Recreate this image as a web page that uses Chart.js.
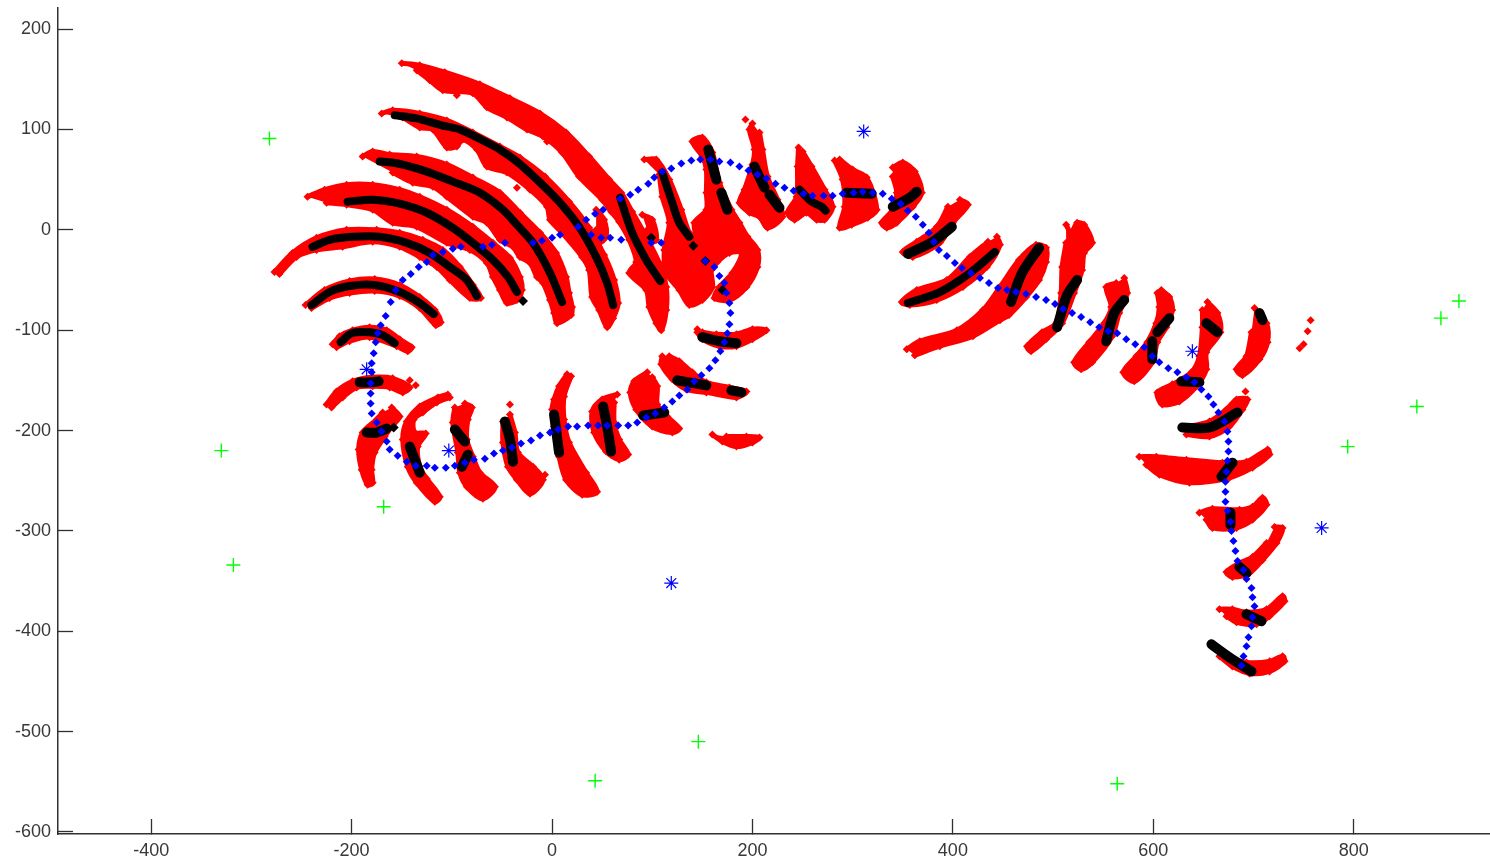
<!DOCTYPE html>
<html>
<head>
<meta charset="utf-8">
<title>Scatter</title>
<script src="https://cdn.jsdelivr.net/npm/chart.js@4"></script>
<style>
  html, body { margin: 0; padding: 0; background: #fff; }
  canvas { display: block; }
</style>
</head>
<body>
<canvas id="chart" width="1490" height="864"></canvas>
<script>
const xTicks = [-400, -200, 0, 200, 400, 600, 800];
const yTicks = [-600, -500, -400, -300, -200, -100, 0, 100, 200];

const greenCrosses = [[-282,91],[-330,-220],[-318,-334],[-168,-276],[43,-549],[146,-510],[564,-552],[794,-216],[863,-176],[887,-88],[905,-71]];
const blueStars = [[311,98],[639,-121],[768,-297],[-185,-139],[-103,-220],[119,-352]];

// outlines of the red bands
const redShapes = [
  [[-150,166],[-132,164],[-107,157],[-72,145],[-42,131],[-12,116],[14,97],[37,73],[57,50],[69,37],[80,18],[94,-7],[107,-33],[114,-57],[114,-80],[109,-100],[104,-93],[97,-77],[94,-60],[77,-43],[84,-32],[77,-10],[67,8],[59,18],[50,30],[27,53],[10,77],[-9,93],[-25,100],[-45,112],[-65,122],[-79,136],[-109,139],[-122,149],[-135,159]],
  [[-170,116],[-159,119],[-132,116],[-105,109],[-79,97],[-52,83],[-32,72],[-7,53],[17,28],[37,2],[52,-25],[62,-50],[66,-73],[61,-88],[55,-97],[47,-80],[40,-67],[37,-40],[30,-27],[10,-3],[-2,10],[-5,23],[-22,40],[-45,57],[-65,63],[-75,80],[-89,90],[-95,83],[-105,82],[-119,100],[-132,102],[-149,112]],
  [[-189,73],[-179,78],[-162,75],[-135,73],[-105,65],[-79,52],[-52,37],[-32,17],[-12,-3],[4,-23],[14,-47],[17,-63],[20,-77],[19,-85],[5,-93],[2,-83],[-2,-70],[-9,-53],[-15,-47],[-22,-33],[-32,-27],[-39,-17],[-47,-13],[-52,-10],[-65,7],[-79,13],[-105,33],[-119,43],[-139,47],[-159,57]],
  [[-244,33],[-227,40],[-205,45],[-179,45],[-152,40],[-132,33],[-105,20],[-79,3],[-59,-13],[-42,-28],[-32,-47],[-30,-60],[-35,-70],[-45,-73],[-52,-60],[-59,-47],[-65,-33],[-82,-20],[-105,-13],[-135,3],[-159,7],[-179,20],[-205,25],[-225,27]],
  [[-277,-42],[-259,-23],[-235,-8],[-205,0],[-175,0],[-152,-3],[-129,-10],[-109,-20],[-92,-37],[-79,-55],[-71,-68],[-82,-68],[-102,-50],[-115,-37],[-132,-27],[-152,-17],[-179,-12],[-209,-17],[-235,-20],[-255,-27],[-272,-44]],
  [[-246,-75],[-227,-60],[-202,-51],[-177,-49],[-152,-55],[-132,-67],[-117,-80],[-111,-92],[-116,-95],[-132,-78],[-152,-66],[-177,-61],[-202,-63],[-222,-68],[-240,-78]],
  [[-219,-114],[-212,-106],[-199,-100],[-182,-97],[-165,-100],[-152,-109],[-140,-117],[-144,-121],[-155,-116],[-182,-107],[-202,-111],[-215,-117]],
  [[-225,-174],[-215,-161],[-199,-151],[-179,-147],[-159,-148],[-142,-157],[-149,-162],[-162,-157],[-179,-156],[-195,-157],[-209,-167],[-220,-177]],
  [[-160,-177],[-152,-186],[-160,-196],[-167,-206],[-177,-222],[-180,-239],[-179,-252],[-184,-254],[-190,-239],[-193,-219],[-189,-202],[-175,-189],[-169,-182]],
  [[-104,-164],[-114,-167],[-132,-176],[-145,-191],[-149,-209],[-144,-236],[-135,-252],[-117,-271],[-112,-266],[-125,-248],[-132,-236],[-134,-216],[-126,-203],[-137,-202],[-138,-189],[-129,-182],[-115,-172],[-102,-167]],
  [[-87,-173],[-80,-177],[-84,-189],[-85,-209],[-79,-226],[-72,-242],[-57,-256],[-69,-268],[-85,-256],[-92,-242],[-94,-222],[-99,-192],[-97,-177]],
  [[-42,-184],[-37,-202],[-34,-222],[-19,-236],[-9,-249],[-22,-263],[-35,-249],[-44,-236],[-49,-212],[-49,-191]],
  [[15,-144],[7,-156],[2,-169],[0,-179],[2,-196],[7,-226],[14,-249],[30,-264],[45,-261],[34,-242],[17,-212],[12,-189],[12,-166],[19,-146]],
  [[65,-164],[50,-169],[40,-181],[42,-202],[54,-221],[67,-229],[76,-224],[67,-209],[62,-192],[62,-172]],
  [[95,-142],[82,-151],[78,-162],[84,-179],[100,-196],[120,-202],[127,-198],[115,-186],[105,-174],[105,-156],[100,-147]],
  [[110,-126],[109,-134],[120,-149],[134,-159],[154,-162],[184,-167],[194,-161],[177,-157],[154,-152],[140,-142],[127,-131],[117,-126]],
  [[160,-204],[170,-211],[184,-216],[200,-212],[207,-207],[194,-206],[174,-206]],
  [[145,-102],[150,-109],[167,-116],[184,-116],[200,-109],[214,-100],[200,-99],[184,-104],[164,-104],[150,-102]],
  [[44,20],[52,10],[54,-7],[47,-13],[44,0]],
  [[90,15],[100,10],[104,-10],[94,-13],[95,0]],
  [[92,70],[104,70],[117,50],[129,20],[137,-3],[144,-10],[142,7],[154,20],[154,37],[154,60],[150,73],[140,88],[150,92],[160,77],[167,47],[179,20],[187,7],[195,-7],[205,-20],[205,-37],[194,-57],[177,-70],[162,-68],[167,-57],[180,-43],[189,-23],[177,-23],[165,-32],[159,-40],[160,-57],[150,-70],[137,-75],[127,-60],[114,-43],[112,-20],[117,7],[110,33],[107,55]],
  [[200,106],[197,100],[202,80],[200,65],[192,40],[187,27],[197,17],[207,13],[215,2],[230,13],[225,30],[215,53],[210,80],[207,97]],
  [[246,82],[245,63],[244,33],[235,17],[242,10],[254,17],[264,10],[272,10],[280,23],[272,40],[259,63],[250,78]],
  [[282,69],[290,50],[292,23],[287,2],[299,5],[315,12],[324,20],[314,52],[300,60],[287,70]],
  [[340,62],[350,67],[362,58],[369,37],[360,23],[344,7],[334,2],[329,7],[340,20],[344,37],[340,53]],
  [[407,30],[415,25],[400,7],[387,-13],[360,-27],[350,-22],[364,-12],[384,3],[395,23]],
  [[444,-7],[447,-15],[434,-37],[410,-57],[384,-70],[357,-75],[349,-72],[364,-60],[394,-50],[417,-27],[435,-12]],
  [[354,-119],[367,-111],[404,-100],[430,-80],[447,-57],[466,-30],[483,-15],[493,-18],[493,-32],[486,-50],[473,-67],[456,-85],[447,-90],[420,-106],[387,-116],[362,-125]],
  [[513,5],[518,-3],[524,7],[531,5],[539,-13],[531,-23],[529,-40],[521,-63],[509,-93],[493,-109],[478,-121],[474,-116],[489,-102],[503,-93],[508,-63],[509,-37],[513,-13]],
  [[571,-48],[574,-63],[566,-83],[559,-106],[539,-132],[528,-139],[521,-132],[536,-112],[551,-93],[558,-77],[553,-57],[563,-53]],
  [[608,-60],[616,-67],[619,-80],[613,-97],[604,-112],[599,-132],[581,-151],[570,-142],[583,-126],[594,-112],[603,-93],[606,-77],[604,-63]],
  [[654,-72],[664,-83],[667,-102],[653,-122],[653,-139],[643,-156],[626,-171],[609,-174],[604,-162],[619,-154],[638,-142],[646,-126],[649,-97],[649,-80]],
  [[701,-78],[713,-93],[714,-112],[706,-129],[689,-145],[683,-139],[693,-126],[698,-102]],
  [[628,-197],[656,-191],[673,-179],[683,-169],[694,-169],[689,-179],[676,-196],[656,-206],[633,-204]],
  [[586,-226],[603,-226],[633,-229],[669,-232],[693,-231],[714,-219],[716,-224],[699,-237],[676,-247],[636,-252],[606,-244],[593,-234]],
  [[646,-282],[659,-278],[686,-279],[699,-276],[709,-267],[713,-274],[699,-289],[683,-297],[659,-297],[653,-289]],
  [[721,-296],[729,-297],[723,-312],[709,-329],[696,-342],[679,-346],[673,-341],[686,-332],[699,-326],[713,-312]],
  [[666,-378],[679,-378],[693,-381],[713,-378],[729,-365],[731,-370],[716,-385],[703,-393],[683,-391],[673,-385]],
  [[659,-413],[676,-425],[693,-431],[716,-430],[729,-425],[731,-430],[716,-440],[696,-442],[679,-435],[666,-425]]
];
const redSpecks = [[193,110],[-142,-150],[-136,-155],[-42,-174],[-7,-244],[757,-90],[754,-101],[750,-114],[746,-118],[692,-161],[145,-99],[-95,134],[-35,42],[-104,-10],[-5,88],[18,-84],[6,-88]];

// black runs along the bands
const blackStrokes = [
  [[-157,114],[-135,111],[-110,104],[-92,100],[-65,87],[-52,80],[-35,68],[-15,50],[7,28],[27,3],[44,-27],[55,-53],[61,-75]],
  [[-172,68],[-160,67],[-149,65],[-125,58],[-99,48],[-72,37],[-49,20],[-35,5],[-19,-13],[-2,-43],[10,-72]],
  [[-204,28],[-179,30],[-152,26],[-125,17],[-99,2],[-79,-13],[-59,-30],[-44,-47],[-35,-62]],
  [[-239,-17],[-222,-10],[-199,-7],[-172,-7],[-145,-13],[-122,-23],[-102,-37],[-85,-50],[-75,-66]],
  [[-240,-75],[-222,-62],[-202,-56],[-177,-55],[-152,-62],[-132,-73],[-118,-84]],
  [[-211,-112],[-200,-103],[-182,-102],[-169,-105],[-157,-113]],
  [[-192,-152],[-182,-152],[-173,-151]],
  [[-185,-202],[-175,-202],[-165,-198]],
  [[-142,-216],[-137,-229],[-132,-242]],
  [[-97,-199],[-87,-211]],
  [[-84,-224],[-90,-236]],
  [[-47,-191],[-42,-209],[-39,-231]],
  [[2,-184],[4,-199],[7,-222]],
  [[51,-176],[55,-196],[59,-221]],
  [[91,-185],[112,-182]],
  [[125,-150],[154,-155]],
  [[179,-160],[189,-162]],
  [[150,-107],[167,-111],[184,-113]],
  [[68,32],[80,-3],[94,-30],[108,-51]],
  [[110,57],[119,30],[127,7],[137,-7]],
  [[156,80],[164,50]],
  [[169,37],[175,20]],
  [[202,63],[212,42]],
  [[217,35],[227,22]],
  [[247,40],[259,28],[269,23],[273,19]],
  [[294,37],[319,36]],
  [[340,23],[357,32],[364,38]],
  [[355,-24],[380,-12],[399,3]],
  [[355,-73],[387,-62],[417,-43],[442,-22]],
  [[458,-72],[469,-43],[486,-18]],
  [[504,-97],[514,-65],[524,-50]],
  [[553,-111],[561,-83],[571,-70]],
  [[599,-129],[599,-111]],
  [[604,-102],[616,-88]],
  [[653,-93],[664,-102]],
  [[628,-151],[646,-152]],
  [[706,-83],[709,-90]],
  [[629,-197],[656,-197],[684,-182]],
  [[668,-246],[679,-232]],
  [[677,-282],[677,-294]],
  [[686,-336],[693,-342]],
  [[693,-383],[708,-390]],
  [[658,-413],[676,-426],[698,-440]]
];
const blackDots = [[141,-16],[153,-31],[170,-60],[99,-8],[-29,-71],[-158,-197]];

const blueTrack = [
  [688,-434],[690,-425],[693,-415],[695,-406],[698,-395],[699,-386],[701,-375],[699,-366],[698,-357],[693,-348],[690,-339],[684,-330],[682,-320],[680,-310],[678,-300],[677,-291],[674,-280],[672,-271],[672,-261],[672,-251],[673,-241],[674,-230],[675,-221],[675,-211],[674,-201],[671,-191],[665,-182],[660,-174],[655,-166],[648,-159],[641,-152],[633,-147],[624,-142],[615,-138],[606,-132],[599,-126],[591,-117],[582,-114],[573,-109],[564,-103],[555,-101],[546,-97],[537,-92],[528,-87],[519,-83],[510,-79],[502,-74],[493,-70],[483,-67],[473,-64],[463,-62],[454,-60],[445,-58],[436,-53],[427,-48],[418,-43],[409,-38],[402,-33],[394,-26],[386,-20],[381,-12],[376,-3],[370,5],[363,13],[355,19],[348,26],[339,31],[330,36],[320,37],[310,38],[301,37],[290,36],[280,34],[271,34],[260,34],[251,36],[241,39],[232,42],[223,46],[214,51],[205,55],[196,59],[187,63],[178,67],[167,68],[158,70],[148,70],[139,69],[129,66],[119,61],[110,58],[102,52],[96,46],[86,40],[78,35],[68,31],[51,20],[43,16],[34,10],[26,3],[8,-5],[0,-8],[-10,-11],[-19,-13],[-47,-13],[-60,-15],[-69,-17],[-91,-17],[-99,-19],[-109,-22],[-119,-25],[-125,-32],[-133,-37],[-141,-44],[-149,-50],[-156,-60],[-161,-72],[-166,-86],[-171,-95],[-174,-103],[-176,-112],[-178,-123],[-180,-133],[-180,-142],[-181,-153],[-181,-163],[-181,-173],[-180,-183],[-175,-192],[-170,-201],[-165,-211],[-162,-219],[-154,-225],[-145,-231],[-136,-235],[-125,-235],[-117,-237],[-106,-237],[-97,-235],[-87,-232],[-78,-229],[-67,-228],[-58,-223],[-49,-220],[-40,-217],[-31,-213],[-21,-210],[-12,-205],[-2,-202],[6,-199],[16,-196],[25,-196],[36,-195],[46,-195],[55,-195],[66,-195],[76,-195],[85,-192],[94,-187],[103,-183],[112,-177],[120,-171],[127,-165],[135,-159],[142,-151],[149,-145],[157,-138],[163,-130],[168,-121],[172,-112],[175,-103],[177,-94],[178,-83],[177,-73],[174,-63],[172,-53],[167,-46],[162,-37],[153,-31],[109,-13],[99,-13],[69,-10],[58,-8],[49,-8],[39,-5]
];

const toPoints = list => list.map(p => ({ x: p[0], y: p[1] }));

const datasets = [];
redShapes.forEach(shape => {
  datasets.push({
    data: toPoints(shape),
    showLine: true,
    fill: "shape",
    tension: 0.3,
    backgroundColor: "#ff0000",
    borderColor: "#ff0000",
    borderWidth: 5,
    borderJoinStyle: "round",
    pointStyle: "rectRot",
    pointRadius: 4,
    pointBackgroundColor: "#ff0000",
    pointBorderWidth: 0,
    order: 3
  });
});
datasets.push({
  data: toPoints(redSpecks),
  pointStyle: "rectRot",
  pointRadius: 4,
  pointBackgroundColor: "#ff0000",
  pointBorderWidth: 0,
  order: 3
});
blackStrokes.forEach(stroke => {
  datasets.push({
    data: toPoints(stroke),
    showLine: true,
    tension: 0.3,
    borderColor: "#000000",
    borderWidth: stroke.length > 3 ? 8 : 10,
    borderCapStyle: "round",
    pointRadius: 0,
    order: 2
  });
});
datasets.push({
  data: toPoints(blackDots),
  pointStyle: "rectRot",
  pointRadius: 5,
  pointBackgroundColor: "#000000",
  pointBorderWidth: 0,
  order: 2
});
datasets.push({
  data: toPoints(blueTrack),
  pointStyle: "rectRot",
  pointRadius: 4,
  pointBackgroundColor: "#0000ff",
  pointBorderWidth: 0,
  order: 1
});
datasets.push({
  data: toPoints(blueStars),
  pointStyle: "star",
  pointRadius: 7,
  pointBorderColor: "#0000ff",
  pointBorderWidth: 1.2,
  order: 0
});
datasets.push({
  data: toPoints(greenCrosses),
  pointStyle: "cross",
  pointRadius: 7,
  pointBorderColor: "#00ff00",
  pointBorderWidth: 1.4,
  order: 0
});

const axisColor = "#303030";
const axisFont = { family: "'Liberation Sans', Arial, sans-serif", size: 18 };

function clearPadding(axis) {
  axis.paddingTop = 0;
  axis.paddingBottom = 0;
  axis.paddingLeft = 0;
  axis.paddingRight = 0;
}

new Chart(document.getElementById("chart"), {
  type: "scatter",
  data: { datasets },
  options: {
    responsive: false,
    animation: false,
    layout: { autoPadding: false, padding: { top: 8, left: 0, right: 0, bottom: 0 } },
    plugins: { legend: { display: false }, tooltip: { enabled: false } },
    elements: { line: { capBezierPoints: false } },
    scales: {
      x: {
        type: "linear",
        min: -493,
        max: 936,
        afterBuildTicks: axis => { axis.ticks = xTicks.map(v => ({ value: v })); },
        afterFit: axis => { axis.height = 30; clearPadding(axis); },
        grid: { drawOnChartArea: false, tickLength: -15, tickColor: axisColor, tickWidth: 1.3 },
        border: { color: axisColor, width: 1.5 },
        ticks: { color: "#383838", font: axisFont, padding: 21, maxRotation: 0, autoSkip: false }
      },
      y: {
        type: "linear",
        min: -602,
        max: 221,
        afterBuildTicks: axis => { axis.ticks = yTicks.map(v => ({ value: v })); },
        afterFit: axis => { axis.width = 58; clearPadding(axis); },
        grid: { drawOnChartArea: false, tickLength: -15, tickColor: axisColor, tickWidth: 1.3 },
        border: { color: axisColor, width: 1.5 },
        ticks: { color: "#383838", font: axisFont, padding: 22, autoSkip: false }
      }
    }
  }
});
</script>
</body>
</html>
